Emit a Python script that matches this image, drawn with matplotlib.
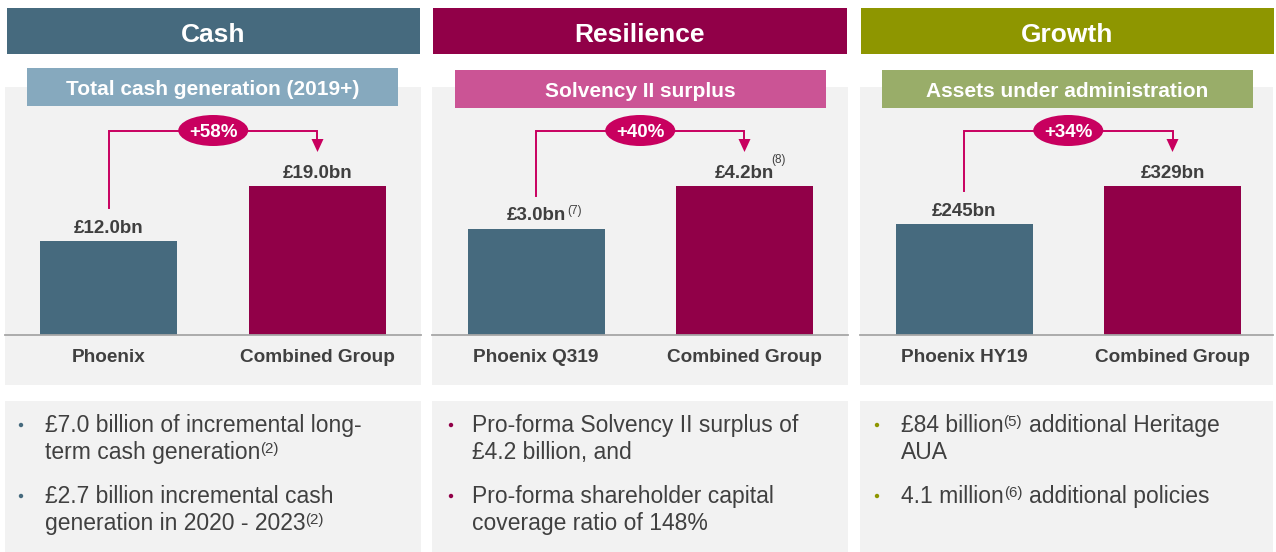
import matplotlib
matplotlib.use("Agg")
import matplotlib.pyplot as plt
from matplotlib.patches import Rectangle, Ellipse, Polygon, Circle

plt.rcParams['font.family'] = ['Liberation Sans', 'DejaVu Sans']

# ---------------- data ----------------
section_titles = ["Cash", "Resilience", "Growth"]
subtitles = ["Total cash generation (2019+)", "Solvency II surplus", "Assets under administration"]
cash_categories = ["Phoenix", "Combined Group"]
resilience_categories = ["Phoenix Q319", "Combined Group"]
growth_categories = ["Phoenix HY19", "Combined Group"]
cash_values = [12.0, 19.0]
resilience_values = [3.0, 4.2]
growth_values = [245, 329]
cash_labels = ["£12.0bn", "£19.0bn"]
resilience_labels = ["£3.0bn", "£4.2bn"]
growth_labels = ["£245bn", "£329bn"]
resilience_notes = ["(7)", "(8)"]
changes = ["+58%", "+40%", "+34%"]
cash_bullets = [
    [[("£7.0 billion of incremental long-", False)],
     [("term cash generation", False), ("(2)", True)]],
    [[("£2.7 billion incremental cash", False)],
     [("generation in 2020 - 2023", False), ("(2)", True)]],
]
resilience_bullets = [
    [[("Pro-forma Solvency II surplus of", False)],
     [("£4.2 billion, and", False)]],
    [[("Pro-forma shareholder capital", False)],
     [("coverage ratio of 148%", False)]],
]
growth_bullets = [
    [[("£84 billion", False), ("(5)", True), (" additional Heritage", False)],
     [("AUA", False)]],
    [[("4.1 million", False), ("(6)", True), (" additional policies", False)]],
]

categories = [cash_categories, resilience_categories, growth_categories]
values = [cash_values, resilience_values, growth_values]
labels = [cash_labels, resilience_labels, growth_labels]
notes = [["", ""], resilience_notes, ["", ""]]
bullets = [cash_bullets, resilience_bullets, growth_bullets]

# ---------------- style ----------------
W, H, DPI = 1276, 552, 100
TEAL = "#466A7E"
PLUM = "#910048"
OLIVE = "#8E9600"
header_colors = [TEAL, PLUM, OLIVE]
sub_colors = ["#86A9BE", "#CB5495", "#99AD69"]
dot_colors = [TEAL, PLUM, OLIVE]
MAGENTA = "#C8005F"
PANEL = "#F2F2F2"
TXT = "#404040"

panel_x = [(5, 421), (432, 848), (860, 1273)]
header_x = [(7, 420), (433, 847), (861, 1274)]
sub_box = [(27, 398, 68, 106), (455, 826, 70, 108), (882, 1253, 70, 108)]
dot_x = [21, 451, 877]
text_x = [45, 472, 901]

fig = plt.figure(figsize=(W / DPI, H / DPI), dpi=DPI)
fig.patch.set_facecolor("white")

bg = fig.add_axes([0, 0, 1, 1])
bg.set_xlim(0, W); bg.set_ylim(H, 0); bg.axis("off"); bg.set_zorder(0)

ov = fig.add_axes([0, 0, 1, 1])
ov.set_xlim(0, W); ov.set_ylim(H, 0); ov.axis("off"); ov.set_zorder(2)
ov.patch.set_alpha(0)

renderer = fig.canvas.get_renderer()
PX = DPI / 72.0


def draw_runs(x, y, runs, size, color):
    for text, sup in runs:
        stripped = text.lstrip(" ")
        lead = len(text) - len(stripped)
        x += lead * 0.2778 * size * PX
        fs = size * 0.66 if sup else size
        yy = y - (6 if sup else 0)
        t = ov.text(x, yy, stripped, fontsize=fs, color=color, va="baseline", ha="left")
        bb = t.get_window_extent(renderer)
        x = bb.x1 + (0.5 if sup else 0)


BASE = 335
TOP = 87
COMB_H = 148.5
UNIT = 208.5

for k in range(3):
    px0, px1 = panel_x[k]
    # panels
    bg.add_patch(Rectangle((px0, TOP), px1 - px0, 385 - TOP, color=PANEL, lw=0))
    bg.add_patch(Rectangle((px0, 401), px1 - px0, H - 401, color=PANEL, lw=0))
    hx0, hx1 = header_x[k]
    bg.add_patch(Rectangle((hx0, 8), hx1 - hx0, 46, color=header_colors[k], lw=0))
    bg.text((hx0 + hx1) / 2, 41.5, section_titles[k], color="white", fontsize=19,
            fontweight="bold", ha="center", va="baseline")
    sx0, sx1, sy0, sy1 = sub_box[k]
    bg.add_patch(Rectangle((sx0, sy0), sx1 - sx0, sy1 - sy0, color=sub_colors[k], lw=0))
    bg.text((sx0 + sx1) / 2, sy1 - 11, subtitles[k], color="white", fontsize=15,
            fontweight="bold", ha="center", va="baseline")

    # bar axes
    ax = fig.add_axes([px0 / W, (H - BASE) / H, (px1 - px0) / W, (BASE - TOP) / H])
    ax.set_zorder(1)
    ax.patch.set_alpha(0)
    vals = values[k]
    ax.set_xlim(-104 / UNIT, (px1 - px0 - 104) / UNIT)
    ax.set_ylim(0, vals[1] * (BASE - TOP) / COMB_H)
    ax.bar([0, 1], vals, width=137 / UNIT, color=[TEAL, PLUM], linewidth=0)
    for s in ["top", "left", "right"]:
        ax.spines[s].set_visible(False)
    ax.spines["bottom"].set_color("#A6A6A6")
    ax.spines["bottom"].set_linewidth(1.3)
    ax.set_xticks([]); ax.set_yticks([])

    tops = []
    xs = []
    for i in range(2):
        dx, dy = ax.transData.transform((i, vals[i]))
        xs.append(dx)
        tops.append(H - dy)
        ann = ax.annotate(labels[k][i], xy=(i, vals[i]), xytext=(0, 8.5 / PX),
                          textcoords="offset points", ha="center", va="baseline",
                          fontsize=13.5, fontweight="bold", color="#3F3F3F")
        ax.annotate(categories[k][i], xy=(i, 0), xytext=(0, -26.5 / PX),
                    textcoords="offset points", ha="center", va="baseline",
                    fontsize=13.7, fontweight="bold", color=TXT)
        if notes[k][i]:
            bb = ann.get_window_extent(renderer)
            baseline = tops[i] - 8.5
            if i == 0:
                ov.text(bb.x1 + 2, baseline - 6, notes[k][i], fontsize=8.5,
                        color=TXT, ha="left", va="baseline")
            else:
                ov.text(bb.x1 - 3, baseline - 15, notes[k][i], fontsize=8.5,
                        color=TXT, ha="left", va="baseline")

    # connector arrow
    yline = 130.5
    x0, x1 = xs
    ov.plot([x0, x0, x1, x1], [tops[0] - 33, yline, yline, tops[1] - 46],
            color=MAGENTA, lw=1.4, solid_joinstyle="miter")
    tip = tops[1] - 34.5
    ov.add_patch(Polygon([[x1 - 6, tip - 13], [x1 + 6, tip - 13], [x1, tip]],
                         closed=True, color=MAGENTA, lw=0))
    cx = (x0 + x1) / 2
    ov.add_patch(Ellipse((cx, yline), 70, 31, color=MAGENTA, lw=0))
    ov.text(cx, yline + 6.5, changes[k], color="white", fontsize=13.5,
            fontweight="bold", ha="center", va="baseline")

    # bullets
    starts = [432, 503]
    for b, bullet in enumerate(bullets[k]):
        y = starts[b]
        ov.add_patch(Circle((dot_x[k], y - 7), 2.2, color=dot_colors[k], lw=0))
        for line in bullet:
            draw_runs(text_x[k], y, line, 16.5, TXT)
            y += 27

fig.savefig("out.png", dpi=DPI)
